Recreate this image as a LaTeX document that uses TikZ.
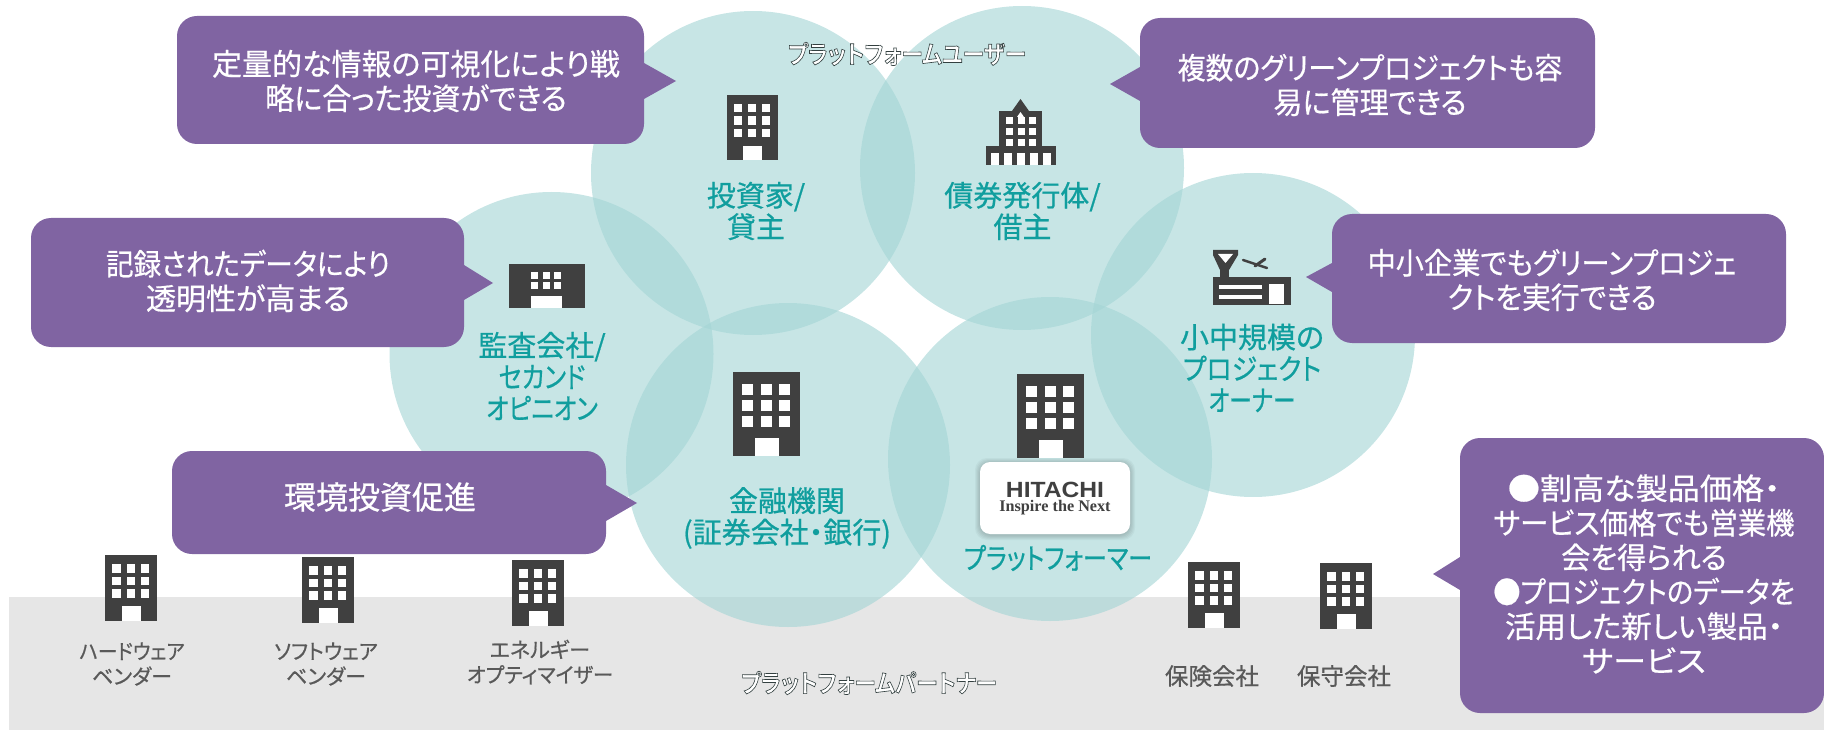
\documentclass[tikz,border=0pt]{standalone}
\usepackage{fontspec}
\setmainfont[RawFeature={+palt}]{Noto Sans CJK JP}
\newfontfamily\jpmid[RawFeature={+palt},FakeBold=0.6]{Noto Sans CJK JP}
\newfontfamily\jpglow[RawFeature={+palt},FakeBold=2.6]{Noto Sans CJK JP Bold}
\newfontfamily\logosans[FakeStretch=1.12]{Liberation Sans Bold}
\newfontfamily\logoserif{Liberation Serif Bold}
\definecolor{bubblefill}{RGB}{164,213,213}
\definecolor{calloutfill}{RGB}{128,100,162}
\definecolor{icondark}{RGB}{64,64,64}
\definecolor{bandgray}{RGB}{230,230,230}
\definecolor{labelteal}{RGB}{16,158,158}
\definecolor{labelgray}{RGB}{89,89,89}
\newcommand{\building}[3]{%
  \begin{scope}[shift={(#1,#2)},scale=#3]
    \fill[icondark] (0,0) rectangle (67,84);
    \foreach \c in {0,1,2}
      \foreach \r in {0,1,2}
        \fill[white] (9.3+18.3*\c,11.7+16*\r) rectangle +(11,11);
    \fill[white] (21.7,66) rectangle (45.7,84);
  \end{scope}}
\newcommand{\squeeze}[2]{\scalebox{#1}[1]{#2}}
\newcommand{\glowtext}[1]{{\special{pdf:bcolor [1 1 1] [0.2 0.25 0.25]}\jpglow #1\special{pdf:ecolor}}}
\begin{document}
\begin{tikzpicture}[x=1pt,y=-1pt,
  bubble/.style={circle,fill=bubblefill,fill opacity=.62,minimum size=324,inner sep=0},
  callout/.style={rectangle,rounded corners=20,fill=calloutfill,inner sep=0},
  callouttext/.style={text=white,align=center,font=\fontsize{30}{34.5}\selectfont\jpmid},
  teallabel/.style={text=labelteal,align=center,font=\fontsize{29}{31.5}\selectfont\jpmid},
  graylabel/.style={text=labelgray,align=center,font=\fontsize{21}{25}\selectfont\jpmid},
  glowlabel/.style={font=\fontsize{25}{28}\selectfont}]
\useasboundingbox (0,0) rectangle (1824,730);

\fill[bandgray] (9,597) rectangle (1824,730);

%circles
\node[bubble] (investor) at (753,173) {};
\node[bubble] (issuer) at (1022,168) {};
\node[bubble] (auditor) at (551.5,354) {};
\node[bubble] (finance) at (788,465) {};
\node[bubble] (platformer) at (1050,459) {};
\node[bubble] (owner) at (1253,335) {};

%office icons
\building{726.5}{95}{.77}
\building{733}{372}{1}
\building{1017}{374}{1}
\building{105}{555}{.78}
\building{302}{557}{.78}
\building{512}{560}{.78}
\building{1188}{562}{.78}
\building{1320}{563}{.78}

%auditor icon
\fill[icondark] (509,264) rectangle (585,308);
\foreach \c in {0,1,2}
  \foreach \r in {0,1}
    \fill[white] (531+11.7*\c,272+10*\r) rectangle +(7,7);
\fill[white] (531,296) rectangle (561.5,308);

%issuer icon
\fill[icondark] (986,146) rectangle (1056,165);
\fill[icondark] (999,111) rectangle (1042,146);
\fill[icondark] (1012,111) -- (1020.5,99) -- (1029,111) -- cycle;
\foreach \c in {0,1,2}
  \foreach \r in {0,1,2}
    \fill[white] (1006+11.5*\c,117+11*\r) rectangle +(7,7);
\fill[white] (1017,117) -- (1020.5,112) -- (1024,117) -- cycle;
\foreach \c in {0,...,4}
  \fill[white] (991+13*\c,153) rectangle +(8,12);

%owner icon
\fill[icondark] (1213,277) rectangle (1291,305);
\fill[white] (1269,284) rectangle (1284,304);
\fill[white] (1219,285) rectangle (1262,289);
\fill[white] (1219,295) rectangle (1262,299);
\fill[icondark] (1220,265) rectangle (1229,277);
\fill[icondark] (1213,250) -- (1238,250) -- (1238,255) -- (1229,270) -- (1220,270) -- (1213,255) -- cycle;
\fill[white] (1218,254) -- (1233,254) -- (1225.5,263) -- cycle;
\draw[icondark,line width=2.5,line cap=round] (1243,260) -- (1267,268);
\draw[icondark,line width=3,line cap=round] (1265,259) -- (1255,266);

%logo
\foreach \g in {1,...,5}
  \fill[black,opacity=.035,rounded corners=12] (980-\g,462-\g+1) rectangle (1130+\g,534+\g+1);
\node[rectangle,rounded corners=10,fill=white,minimum width=150,minimum height=72,inner sep=0] (logo) at (1055,498) {};
\node[text=icondark,font=\fontsize{22}{24}\selectfont\logosans,inner sep=0] (hitachi) at (1055,490) {HITACHI};
\node[text=icondark,font=\fontsize{16.2}{18}\selectfont\logoserif,inner sep=0] (inspire) at (1055,508) {Inspire the Next};

%circle labels
\node[teallabel] (investortxt) at (756,211) {投資家/\\貸主};
\node[teallabel] (issuertxt) at (1022.5,211) {債券発行体/\\借主};
\node[teallabel] (auditortxt) at (542,376) {監査会社/\\\squeeze{.84}{セカンド}\\\squeeze{.84}{オピニオン}};
\node[teallabel] (financetxt) at (787,518) {金融機関\\(証券会社・銀行)};
\node[teallabel] (platformertxt) at (1058,558) {\squeeze{.83}{プラットフォーマー}};
\node[teallabel] (ownertxt) at (1252,368) {小中規模の\\\squeeze{.89}{プロジェクト}\\\squeeze{.78}{オーナー}};

%partner labels
\node[graylabel] (hardtxt) at (132,664) {\squeeze{.93}{ハードウェア}\\ベンダー};
\node[graylabel] (softtxt) at (326,664) {\squeeze{.97}{ソフトウェア}\\ベンダー};
\node[graylabel] (energytxt) at (540,662) {エネルギー\\\squeeze{.97}{オプティマイザー}};
\node[graylabel,font=\fontsize{23.5}{25}\selectfont\jpmid] (insurancetxt) at (1212,676) {保険会社};
\node[graylabel,font=\fontsize{23.5}{25}\selectfont\jpmid] (maintenancetxt) at (1344,676) {保守会社};

\node[glowlabel] (usertxt) at (907,54) {\squeeze{.87}{\glowtext{プラットフォームユーザー}}};
\node[glowlabel] (partnertxt) at (869,683) {\squeeze{.87}{\glowtext{プラットフォームパートナー}}};

%callouts
\node[callout,minimum width=467,minimum height=128] (box1) at (410.5,80) {};
\fill[calloutfill] (644,63) -- (676,81) -- (644,99) -- cycle;
\node[callouttext] (txt1) at (416,81) {定量的な情報の可視化により戦\\\squeeze{.97}{略に合った投資ができる}};

\node[callout,minimum width=455,minimum height=130] (box2) at (1367.5,83) {};
\fill[calloutfill] (1140,67) -- (1110,84) -- (1140,101) -- cycle;
\node[callouttext] (txt2) at (1370,85) {\squeeze{.93}{複数のグリーンプロジェクトも容}\\\squeeze{.97}{易に管理できる}};

\node[callout,minimum width=454,minimum height=129] (box3) at (1559,278.5) {};
\fill[calloutfill] (1332,263) -- (1306,277) -- (1332,292) -- cycle;
\node[callouttext] (txt3) at (1552,280) {\squeeze{.94}{中小企業でもグリーンプロジェ}\\\squeeze{.96}{クトを実行できる}};

\node[callout,minimum width=433,minimum height=129] (box4) at (247.5,282.5) {};
\fill[calloutfill] (464,265) -- (493,283) -- (464,300) -- cycle;
\node[callouttext] (txt4) at (248,281) {\squeeze{.92}{記録されたデータにより}\\透明性が高まる};

\node[callout,minimum width=434,minimum height=103] (box5) at (389,502.5) {};
\fill[calloutfill] (606,485) -- (637,503) -- (606,521) -- cycle;
\node[callouttext,font=\fontsize{32}{34}\selectfont\jpmid] (txt5) at (380,497) {環境投資促進};

\node[callout,minimum width=364,minimum height=275] (box6) at (1642,575.5) {};
\fill[calloutfill] (1460,557) -- (1433,574) -- (1460,590) -- cycle;
\node[callouttext] (txt6) at (1644,574) {\squeeze{1.07}{●割高な製品価格・}\\\squeeze{.945}{サービス価格でも営業機}\\\squeeze{.97}{会を得られる}\\\squeeze{.91}{●プロジェクトのデータを}\\\squeeze{1.02}{活用した新しい製品・}\\\squeeze{1.1}{サービス}};

\end{tikzpicture}
\end{document}
